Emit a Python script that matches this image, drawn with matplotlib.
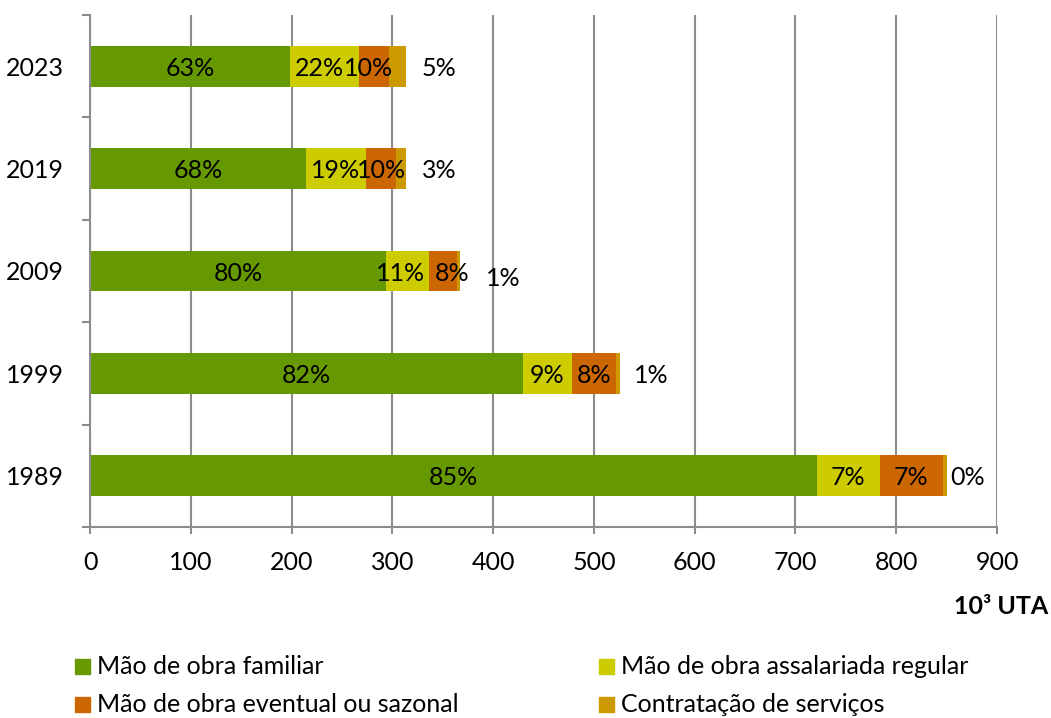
import matplotlib
matplotlib.use('Agg')
import matplotlib.pyplot as plt
import numpy as np
from matplotlib.patches import Rectangle

plt.rcParams['font.family'] = ['Lato', 'DejaVu Sans']

# dados (10^3 UTA)
anos = ['1989', '1999', '2009', '2019', '2023']
familiar = [721, 430, 294, 214, 198]
regular = [63, 48, 42, 60, 69]
eventual = [62, 44, 28, 30, 30]
servicos = [4, 4, 3, 10, 17]

pct_familiar = ['85%', '82%', '80%', '68%', '63%']
pct_regular = ['7%', '9%', '11%', '19%', '22%']
pct_eventual = ['7%', '8%', '8%', '10%', '10%']
pct_servicos = ['0%', '1%', '1%', '3%', '5%']

series = ['Mão de obra familiar', 'Mão de obra assalariada regular',
          'Mão de obra eventual ou sazonal', 'Contratação de serviços']
cores = ['#669900', '#CCCC00', '#CC6600', '#CC9900']

# ajustes (px) das etiquetas, por serie e por ano
desl_x = [[0, 0, 0, 0, 0],
          [0, 0, -7, 0, -5],
          [0, 0, 9, 0, -6],
          [21, 31, 43, 33, 32]]
desl_y = [0, 0, -5, 0, 0]

W, H = 1051, 718
fig = plt.figure(figsize=(W / 100, H / 100), dpi=100)
ax = fig.add_axes([90 / W, 191 / H, 907 / W, 512 / H])

cinza = '#8c8c8c'
fs = 18
y = np.arange(len(anos))
valores = [familiar, regular, eventual, servicos]
etiquetas = [pct_familiar, pct_regular, pct_eventual, pct_servicos]

esq = np.zeros(len(anos))
for i, (v, c) in enumerate(zip(valores, cores)):
    v = np.array(v, dtype=float)
    ax.barh(y, v, left=esq, height=0.4, color=c, edgecolor='none', zorder=2)
    for k in range(len(anos)):
        if i < 3:
            xy = (esq[k] + v[k] / 2, y[k])
            dy = 0
        else:
            xy = (esq[k] + v[k], y[k])
            dy = desl_y[k]
        ax.annotate(etiquetas[i][k], xy,
                    xytext=(desl_x[i][k] * 0.72, dy * 0.72 - 1.5),
                    textcoords='offset points', ha='center', va='center',
                    fontsize=fs, color='black', zorder=3)
    esq = esq + v

ax.set_xlim(0, 900)
ax.set_ylim(-0.5, len(anos) - 0.5)
ax.set_xticks(np.arange(0, 901, 100))
ax.set_yticks(y)
ax.set_yticklabels(anos)
ax.set_yticks(np.arange(-0.5, len(anos), 1), minor=True)

ax.grid(axis='x', color=cinza, linewidth=1.5, zorder=0)
ax.set_axisbelow(True)
for s in ['top', 'right']:
    ax.spines[s].set_visible(False)
for s in ['left', 'bottom']:
    ax.spines[s].set_color(cinza)
    ax.spines[s].set_linewidth(1.5)

ax.tick_params(axis='x', length=5, width=1.5, color=cinza, pad=12, labelsize=fs)
ax.tick_params(axis='y', which='major', length=0, pad=19, labelsize=fs)
ax.tick_params(axis='y', which='minor', length=5.5, width=1.5, color=cinza)

fig.text(1048 / W, 1 - 607 / H, '10³ UTA', ha='right', va='center',
         fontsize=fs, fontweight='bold')

# legenda
pos_leg = [(75, 666), (599, 666), (75, 704), (599, 704)]
for (px, py), nome, c in zip(pos_leg, series, cores):
    fig.patches.append(Rectangle((px / W, 1 - (py + 7.5) / H), 15 / W, 15 / H,
                                 transform=fig.transFigure, color=c))
    fig.text((px + 22) / W, 1 - py / H, nome, ha='left', va='center',
             fontsize=fs)

fig.savefig('out.png', dpi=100)
